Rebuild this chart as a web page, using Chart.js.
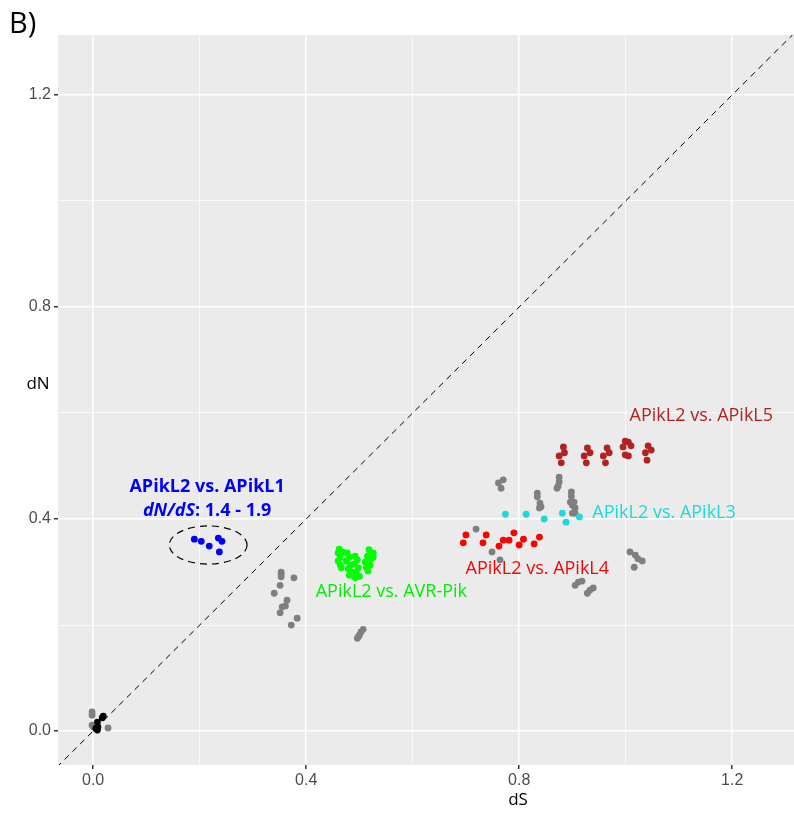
<!DOCTYPE html>
<html>
<head>
<meta charset="utf-8">
<script src="https://cdn.jsdelivr.net/npm/chart.js@4.4.1/dist/chart.umd.min.js"></script>
<style>
html,body{margin:0;padding:0;background:#fff;}
canvas{display:block;}
</style>
</head>
<body>
<canvas id="c" width="794" height="818"></canvas>
<script>
// ---- data (dS, dN) ----
const greyDS = [-0.002,-0.002,-0.002,0.000,0.028,
  0.353,0.353,0.353,0.351,0.377,0.340,0.364,0.361,0.355,0.351,0.383,0.372,
  0.496,0.498,0.500,0.503,0.507,
  0.719,0.749,0.764,0.761,0.770,0.766,
  0.875,0.875,0.873,0.871,
  0.834,0.834,0.839,0.841,0.838,
  0.898,0.898,0.896,0.900,0.903,0.905,0.900,0.905,
  0.905,0.911,0.918,0.928,0.933,0.939,
  1.008,1.018,1.023,1.031,1.016];
const greyDN = [0.036,0.030,0.011,0.008,0.006,
  0.300,0.296,0.291,0.275,0.289,0.260,0.247,0.236,0.234,0.223,0.213,0.200,
  0.175,0.178,0.181,0.187,0.192,
  0.381,0.338,0.323,0.468,0.474,0.458,
  0.479,0.470,0.462,0.458,
  0.449,0.442,0.430,0.423,0.421,
  0.451,0.443,0.432,0.426,0.432,0.421,0.411,0.411,
  0.275,0.281,0.283,0.260,0.266,0.270,
  0.338,0.332,0.325,0.321,0.309];
const blackDS = [0.008,0.008,0.017,0.019,0.009,0.005];
const blackDN = [0.002,0.017,0.025,0.028,0.008,0.005];
const blueDS = [0.190,0.203,0.218,0.235,0.242,0.237];
const blueDN = [0.362,0.358,0.349,0.364,0.358,0.338];
const greenDS = [0.462,0.460,0.464,0.460,0.464,0.466,0.468,
  0.477,0.481,0.475,0.483,0.479,0.485,0.481,
  0.492,0.496,0.490,0.498,0.494,0.500,0.492,
  0.518,0.526,0.515,0.522,0.511,0.520,0.513,0.516,0.526];
const greenDN = [0.343,0.336,0.328,0.321,0.313,0.308,0.338,
  0.336,0.328,0.321,0.313,0.306,0.300,0.294,
  0.330,0.323,0.315,0.308,0.300,0.292,0.289,
  0.342,0.336,0.330,0.325,0.319,0.313,0.308,0.302,0.328];
const redDS = [0.700,0.695,0.738,0.732,0.770,0.781,0.790,0.808,0.762,0.800,0.828,0.838];
const redDN = [0.370,0.355,0.370,0.355,0.360,0.360,0.374,0.362,0.349,0.351,0.353,0.366];
const cyanDS = [0.774,0.813,0.847,0.881,0.888,0.913];
const cyanDN = [0.409,0.409,0.400,0.411,0.394,0.404];
const brownDS = [0.883,0.875,0.885,0.879,0.928,0.922,0.933,0.926,0.965,0.958,0.969,0.962,
  0.999,1.005,0.995,1.010,0.999,1.005,1.042,1.037,1.048,1.040];
const brownDN = [0.536,0.519,0.525,0.506,0.534,0.519,0.525,0.506,0.534,0.519,0.525,0.506,
  0.547,0.545,0.536,0.538,0.521,0.519,0.538,0.525,0.530,0.511];

const tickValues = [0.0,0.4,0.8,1.2];
const diagLine = [-0.2,1.5];
// ellipse around APikL1 points: centre dS, centre dN, radius dS, radius dN
const ellipse = [0.216,0.351,0.073,0.036];
// annotations: text, dS, dN, colour
const labels = [
  ["APikL2 vs. APikL5",1.142,0.594,"#B22222"],
  ["APikL2 vs. APikL3",1.072,0.411,"#1FD8D8"],
  ["APikL2 vs. APikL4",0.834,0.306,"#FF0000"],
  ["APikL2 vs. AVR-Pik",0.560,0.262,"#00EE00"]
];
const blueLabel = ["APikL2 vs. APikL1","dN/dS",": 1.4 - 1.9",0.214,0.460,0.415];

function pts(xs,ys){return xs.map((x,i)=>({x:x,y:ys[i]}));}
function isMajor(v){return tickValues.some(t=>Math.abs(t-v)<1e-6);}

const R=3.4;
const ds = [
  {type:'line',data:diagLine.map(v=>({x:v,y:v})),borderColor:'#000',borderWidth:1,borderDash:[6,5],pointRadius:0,fill:false,order:0},
  {data:pts(greyDS,greyDN),backgroundColor:'#7F7F7F',pointRadius:R,borderWidth:0,order:5},
  {data:pts(blackDS,blackDN),backgroundColor:'#000000',pointRadius:R,borderWidth:0,order:4},
  {data:pts(blueDS,blueDN),backgroundColor:'#0000FF',pointRadius:R,borderWidth:0,order:4},
  {data:pts(greenDS,greenDN),backgroundColor:'#00FF00',pointRadius:R,borderWidth:0,order:4},
  {data:pts(redDS,redDN),backgroundColor:'#FF0000',pointRadius:R,borderWidth:0,order:4},
  {data:pts(cyanDS,cyanDN),backgroundColor:'#1FD8D8',pointRadius:R,borderWidth:0,order:4},
  {data:pts(brownDS,brownDN),backgroundColor:'#B22222',pointRadius:R,borderWidth:0,order:4}
];

const deco = {
  id:'deco',
  beforeDraw(chart){
    const {ctx,chartArea:a}=chart;
    ctx.save();
    ctx.fillStyle='#fff';ctx.fillRect(0,0,chart.width,chart.height);
    ctx.fillStyle='#EBEBEB';ctx.fillRect(a.left,a.top,a.right-a.left,a.bottom-a.top);
    ctx.restore();
  },
  afterDatasetsDraw(chart){
    const {ctx,scales:{x,y}}=chart;
    ctx.save();
    // ellipse
    const cx=x.getPixelForValue(ellipse[0]), cy=y.getPixelForValue(ellipse[1]);
    const rx=Math.abs(x.getPixelForValue(ellipse[0]+ellipse[2])-cx);
    const ry=Math.abs(y.getPixelForValue(ellipse[1]+ellipse[3])-cy);
    ctx.beginPath();ctx.setLineDash([7,5]);ctx.lineWidth=1.2;ctx.strokeStyle='#000';
    ctx.ellipse(cx,cy,rx,ry,0,0,Math.PI*2);ctx.stroke();ctx.setLineDash([]);
    // labels
    ctx.textAlign='center';ctx.textBaseline='middle';
    ctx.font='18px "Open Sans"';
    labels.forEach(l=>{ctx.fillStyle=l[3];ctx.fillText(l[0],x.getPixelForValue(l[1]),y.getPixelForValue(l[2]));});
    // blue bold label
    ctx.fillStyle='#0000FF';
    ctx.font='bold 18px "Open Sans"';
    const bx=x.getPixelForValue(blueLabel[3]);
    ctx.fillText(blueLabel[0],bx,y.getPixelForValue(blueLabel[4]));
    const f1='italic bold 18px "Open Sans"', f2='bold 18px "Open Sans"';
    ctx.font=f1;const w1=ctx.measureText(blueLabel[1]).width;
    ctx.font=f2;const w2=ctx.measureText(blueLabel[2]).width;
    const sx=bx-(w1+w2)/2, by=y.getPixelForValue(blueLabel[5]);
    ctx.textAlign='left';
    ctx.font=f1;ctx.fillText(blueLabel[1],sx,by);
    ctx.font=f2;ctx.fillText(blueLabel[2],sx+w1,by);
    // panel letter and axis titles
    ctx.fillStyle='#000';ctx.font='29px "Open Sans"';ctx.textAlign='left';ctx.textBaseline='alphabetic';
    ctx.fillText('B)',9,33);
    ctx.font='17px "Open Sans"';ctx.textAlign='center';ctx.textBaseline='middle';
    ctx.fillText('dS',518,800);
    ctx.fillText('dN',38,384);
    ctx.restore();
  }
};

const tickFont={family:'"Liberation Sans", Arial, sans-serif',size:16};
new Chart(document.getElementById('c'),{
  type:'scatter',
  data:{datasets:ds},
  plugins:[deco],
  options:{
    responsive:false,animation:false,
    layout:{autoPadding:false,padding:{top:35,left:0,right:0,bottom:0}},
    plugins:{legend:{display:false},tooltip:{enabled:false}},
    scales:{
      x:{type:'linear',min:-0.066,max:1.316,
        afterFit(s){s.height=53;},
        border:{display:false},
        grid:{color:'#FFFFFF',lineWidth:c=>isMajor(c.tick.value)?1.5:0.7,
          tickColor:c=>isMajor(c.tick.value)?'#333333':'rgba(0,0,0,0)',tickLength:4,drawTicks:true},
        ticks:{stepSize:0.2,includeBounds:false,autoSkip:false,maxRotation:0,padding:2,color:'#4D4D4D',font:tickFont,
          callback:v=>isMajor(v)?v.toFixed(1):''}},
      y:{type:'linear',min:-0.064,max:1.313,
        afterFit(s){s.width=58;},
        border:{display:false},
        grid:{color:'#FFFFFF',lineWidth:c=>isMajor(c.tick.value)?1.5:0.7,
          tickColor:c=>isMajor(c.tick.value)?'#333333':'rgba(0,0,0,0)',tickLength:4,drawTicks:true},
        ticks:{stepSize:0.2,includeBounds:false,autoSkip:false,padding:3,color:'#4D4D4D',font:tickFont,
          callback:v=>isMajor(v)?v.toFixed(1):''}}
    }
  }
});
</script>
</body>
</html>
